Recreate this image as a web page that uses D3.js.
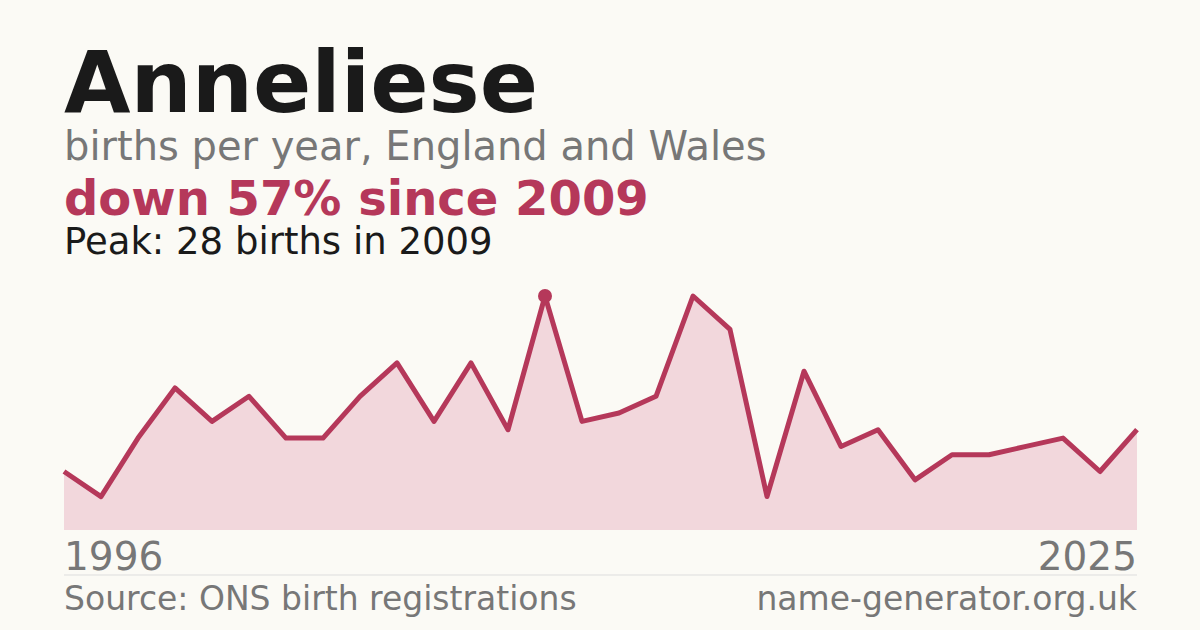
<!DOCTYPE html>
<html><head><meta charset="utf-8">
<script src="https://cdn.jsdelivr.net/npm/d3@7/dist/d3.min.js"></script>
<style>body{margin:0;background:#fbfaf5}svg{display:block;font-family:"DejaVu Sans",sans-serif}</style>
</head><body><svg id="c" width="1200" height="630"></svg>
<script>
const years = d3.range(1996, 2026);
const births = [7,4,11,17,13,16,11,11,16,20,13,20,12,28,13,14,16,28,24,4,19,10,12,6,9,9,10,11,7,12];
const peakYear = 2009, peakValue = 28;
const svg = d3.select("#c");
svg.append("rect").attr("width",1200).attr("height",630).attr("fill","#fbfaf5");
const x = d3.scaleLinear().domain([1996,2025]).range([64,1137]);
const y = d3.scaleLinear().domain([0,28]).range([530,296]);
const data = years.map((yr,i)=>({yr,v:births[i]}));
svg.append("path").datum(data).attr("fill","#f2d7dc")
  .attr("d",d3.area().x(d=>x(d.yr)).y0(530).y1(d=>y(d.v)));
svg.append("path").datum(data).attr("fill","none").attr("stroke","#b5385a").attr("stroke-width",5)
  .attr("stroke-linejoin","round")
  .attr("d",d3.line().x(d=>x(d.yr)).y(d=>y(d.v)));
svg.append("circle").attr("cx",x(peakYear)).attr("cy",y(peakValue)).attr("r",7).attr("fill","#b5385a");
const t=(txt,xx,yy,size,fill,weight,anchor)=>svg.append("text").text(txt).attr("x",xx).attr("y",yy)
  .attr("font-size",size).attr("fill",fill).attr("font-weight",weight||"normal").attr("text-anchor",anchor||"start");
t("Anneliese",64,112,86,"#1a1a1a","bold");
t("births per year, England and Wales",64,160,40,"#777");
t("down 57% since 2009",64,215,48,"#b5385a","bold");
t("Peak: 28 births in 2009",64,254,37,"#1a1a1a");
t("1996",64,570,39,"#777");
t("2025",1137,570,39,"#777","normal","end");
svg.append("line").attr("x1",64).attr("x2",1137).attr("y1",575).attr("y2",575).attr("stroke","#ddd");
t("Source: ONS birth registrations",64,610,33,"#777");
t("name-generator.org.uk",1137,610,33,"#777","normal","end");
</script></body></html>
